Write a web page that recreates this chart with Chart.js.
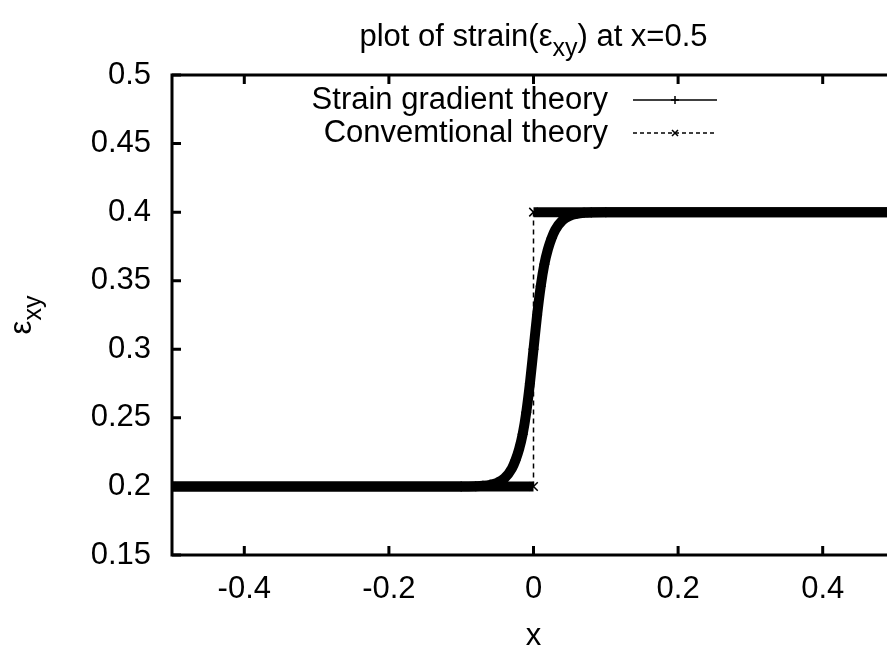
<!DOCTYPE html>
<html>
<head>
<meta charset="utf-8">
<script src="https://cdn.jsdelivr.net/npm/chart.js@4.4.1/dist/chart.umd.min.js"></script>
<style>
  html, body { margin: 0; padding: 0; background: #fff; overflow: hidden; }
  #wrap { width: 920px; height: 652px; }
</style>
</head>
<body>
<div id="wrap"><canvas id="strainChart" width="920" height="652"></canvas></div>
<script>
// axis ticks
const xTicks = [-0.4, -0.2, 0, 0.2, 0.4];
const yTicks = [0.15, 0.2, 0.25, 0.3, 0.35, 0.4, 0.45, 0.5];

// strain gradient theory: smooth transition across the interface at x = 0
const gradX = [-0.5, -0.1, -0.08, -0.07, -0.06, -0.05, -0.04, -0.03, -0.025, -0.02, -0.015, -0.01, -0.005,
  0, 0.005, 0.01, 0.015, 0.02, 0.025, 0.03, 0.04, 0.05, 0.06, 0.07, 0.08, 0.1, 0.5];
const gradY = [0.2, 0.2, 0.2002, 0.2005, 0.2012, 0.2027, 0.206, 0.213, 0.219, 0.227, 0.238, 0.254, 0.275,
  0.3, 0.325, 0.346, 0.362, 0.373, 0.381, 0.387, 0.394, 0.3973, 0.3988, 0.3995, 0.3998, 0.4, 0.4];

// conventional theory: jump at x = 0
const convX = [-0.5, 0, 0, 0.5];
const convY = [0.2, 0.2, 0.4, 0.4];

const seriesNames = ['Strain gradient theory', 'Convemtional theory'];

const FAMILY = '"Liberation Sans", Arial, Helvetica, sans-serif';
const FONT = '31px ' + FAMILY;
const SUB_FONT = '25px ' + FAMILY;

// text with subscript pieces, e.g. [{t:'ε'}, {t:'xy', sub:true}]
function richWidth(ctx, parts) {
  let w = 0;
  parts.forEach(p => { ctx.font = p.sub ? SUB_FONT : FONT; w += ctx.measureText(p.t).width; });
  return w;
}
function drawRich(ctx, parts, cx, baseline) {
  let x = cx - richWidth(ctx, parts) / 2;
  ctx.textAlign = 'left';
  ctx.textBaseline = 'alphabetic';
  parts.forEach(p => {
    ctx.font = p.sub ? SUB_FONT : FONT;
    ctx.fillText(p.t, x, baseline + (p.sub ? 10 : 0));
    x += ctx.measureText(p.t).width;
  });
}

function drawMarker(ctx, style, x, y, r) {
  ctx.beginPath();
  if (style === 'cross') {
    ctx.moveTo(x - r, y); ctx.lineTo(x + r, y);
    ctx.moveTo(x, y - r); ctx.lineTo(x, y + r);
  } else {
    ctx.moveTo(x - r, y - r); ctx.lineTo(x + r, y + r);
    ctx.moveTo(x - r, y + r); ctx.lineTo(x + r, y - r);
  }
  ctx.stroke();
}

// gnuplot style frame: box border with inward ticks
const frame = {
  id: 'frame',
  beforeDatasetsDraw(chart) {
    const { ctx, chartArea: a, scales } = chart;
    ctx.save();
    ctx.strokeStyle = '#000';
    ctx.lineWidth = 3;
    ctx.strokeRect(a.left, a.top, a.right - a.left, a.bottom - a.top);
    ctx.beginPath();
    xTicks.forEach(v => {
      const px = scales.x.getPixelForValue(v);
      ctx.moveTo(px, a.bottom); ctx.lineTo(px, a.bottom - 9);
      ctx.moveTo(px, a.top); ctx.lineTo(px, a.top + 9);
    });
    yTicks.forEach(v => {
      const py = scales.y.getPixelForValue(v);
      ctx.moveTo(a.left, py); ctx.lineTo(a.left + 9, py);
    });
    ctx.stroke();
    ctx.restore();
  },
  afterDraw(chart) {
    const { ctx, chartArea: a } = chart;
    const cx = (a.left + a.right) / 2;
    ctx.save();
    ctx.fillStyle = '#000';

    // title
    drawRich(ctx, [{ t: 'plot of strain(ε' }, { t: 'xy', sub: true }, { t: ') at x=0.5' }], cx, 46);

    // x axis title
    drawRich(ctx, [{ t: 'x' }], cx, 645);

    // y axis title, rotated
    ctx.save();
    ctx.translate(31, (a.top + a.bottom) / 2);
    ctx.rotate(-Math.PI / 2);
    drawRich(ctx, [{ t: 'ε' }, { t: 'xy', sub: true }], 0, 0);
    ctx.restore();

    // legend, top inside the frame
    const styles = [
      { dash: [], marker: 'cross' },
      { dash: [4, 3], marker: 'crossRot' }
    ];
    ctx.font = FONT;
    ctx.textAlign = 'right';
    ctx.textBaseline = 'middle';
    ctx.strokeStyle = '#000';
    chart.data.datasets.forEach((ds, i) => {
      const y = 100 + i * 33;
      ctx.fillText(ds.label, 608, y);
      ctx.lineWidth = 1.5;
      ctx.setLineDash(styles[i].dash);
      ctx.beginPath();
      ctx.moveTo(633, y); ctx.lineTo(717, y);
      ctx.stroke();
      ctx.setLineDash([]);
      drawMarker(ctx, styles[i].marker, 675, y, styles[i].marker === 'cross' ? 4 : 3);
    });
    ctx.restore();
  }
};

const tickFont = { family: FAMILY, size: 31 };

new Chart(document.getElementById('strainChart'), {
  type: 'line',
  data: {
    datasets: [{
      label: seriesNames[0],
      data: gradX.map((x, i) => ({ x: x, y: gradY[i] })),
      borderColor: '#000',
      backgroundColor: '#000',
      borderWidth: 10,
      cubicInterpolationMode: 'monotone',
      pointStyle: 'cross',
      pointRadius: 5,
      pointBorderWidth: 1.5,
      pointBorderColor: '#000'
    }, {
      label: seriesNames[1],
      data: convX.map((x, i) => ({ x: x, y: convY[i] })),
      borderColor: '#000',
      backgroundColor: '#000',
      borderWidth: 10,
      segment: {
        borderWidth: c => c.p0.parsed.x === c.p1.parsed.x ? 1.5 : 10,
        borderDash: c => c.p0.parsed.x === c.p1.parsed.x ? [5, 4] : []
      },
      pointStyle: 'crossRot',
      pointRadius: 6,
      pointBorderWidth: 1.5,
      pointBorderColor: '#000'
    }]
  },
  options: {
    responsive: false,
    animation: false,
    events: [],
    layout: { padding: { top: 75, right: 25, left: 0, bottom: 0 }, autoPadding: false },
    plugins: {
      legend: { display: false },
      title: { display: false },
      tooltip: { enabled: false }
    },
    scales: {
      x: {
        type: 'linear',
        min: -0.5,
        max: 0.5,
        grid: { display: false, drawTicks: false },
        border: { display: false },
        ticks: { font: tickFont, color: '#000', padding: 16, maxRotation: 0, callback: v => String(v) },
        afterBuildTicks: s => { s.ticks = xTicks.map(v => ({ value: v })); },
        afterFit: s => { s.height = 97; }
      },
      y: {
        type: 'linear',
        min: 0.15,
        max: 0.5,
        grid: { display: false, drawTicks: false },
        border: { display: false },
        ticks: { font: tickFont, color: '#000', padding: 21, callback: v => String(v) },
        afterBuildTicks: s => { s.ticks = yTicks.map(v => ({ value: v })); },
        afterFit: s => { s.width = 172; }
      }
    }
  },
  plugins: [frame]
});
</script>
</body>
</html>
